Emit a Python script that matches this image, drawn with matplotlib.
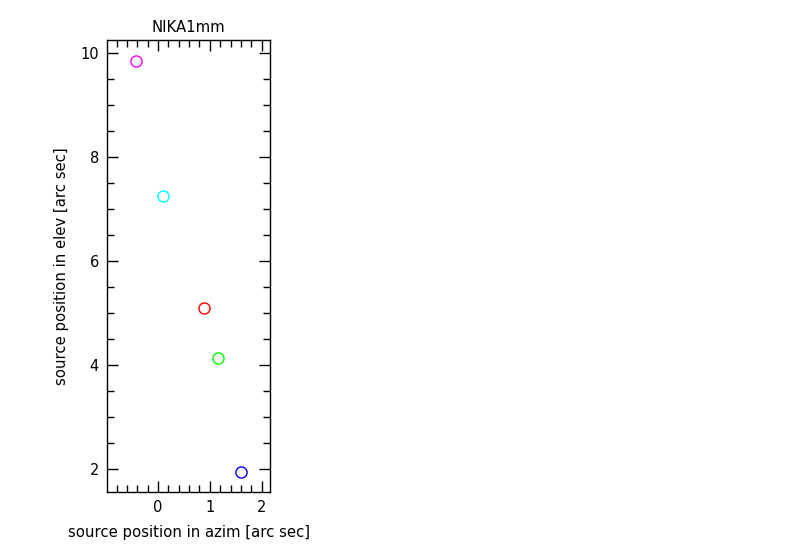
import matplotlib
matplotlib.use("Agg")
import matplotlib.pyplot as plt
from matplotlib.ticker import MultipleLocator

azim = [-0.43, 0.10, 0.88, 1.15, 1.61]
elev = [9.85, 7.26, 5.09, 4.13, 1.93]
colors = ["#ff00ff", "#00ffff", "#ff0000", "#00ff00", "#0000ff"]

fig = plt.figure(figsize=(8, 5.6), dpi=100)
ax = fig.add_axes([0.134, 0.1214, 0.2034, 0.8066])

for x, y, c in zip(azim, elev, colors):
    ax.plot(x, y, "o", mfc="none", mec=c, ms=8, mew=1)

ax.set_xlim(-0.98, 2.16)
ax.set_ylim(1.55, 10.25)
ax.xaxis.set_major_locator(MultipleLocator(1))
ax.xaxis.set_minor_locator(MultipleLocator(0.2))
ax.yaxis.set_major_locator(MultipleLocator(2))
ax.yaxis.set_minor_locator(MultipleLocator(0.5))
ax.tick_params(which="both", direction="in", top=True, right=True, width=1, labelsize=10.5)
ax.tick_params(which="major", length=8, pad=6)
ax.tick_params(which="minor", length=5)
for s in ax.spines.values():
    s.set_linewidth(1)

ax.set_title("NIKA1mm", fontsize=10.7, pad=6)
ax.set_xlabel("source position in azim [arc sec]", fontsize=10.7, labelpad=7)
ax.set_ylabel("source position in elev [arc sec]", fontsize=10.7, labelpad=8)

fig.savefig("out.png", dpi=100)
